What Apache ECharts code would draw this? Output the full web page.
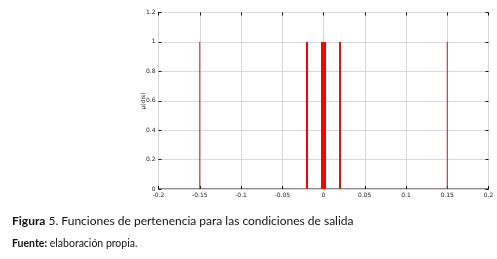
<!DOCTYPE html>
<html><head><meta charset="utf-8">
<script src="https://cdn.jsdelivr.net/npm/echarts@6/dist/echarts.min.js"></script>
<style>html,body{margin:0;padding:0;background:#fff}#c{width:497px;height:259px}</style>
</head><body><div id="c"></div>
<script>
// membership function peaks (output conditions)
const mfCenters = [-0.15, -0.02, 0, 0.02, 0.15];
const mfPeak = [1, 1, 1, 1, 1];
const mfColors = ['#c62828', '#ff0000', '#ff0000', '#c41e1e', '#b22222'];
const mfWidths = [1, 2, 5, 2, 1];
const xTicks = [-0.2, -0.15, -0.1, -0.05, 0, 0.05, 0.1, 0.15, 0.2];
const yTicks = [0, 0.2, 0.4, 0.6, 0.8, 1, 1.2];
const yName = 'μ(dis)';

const chart = echarts.init(document.getElementById('c'));
const lbl = {fontSize: 6, color: '#222', fontFamily: 'DejaVu Sans'};
const series = mfCenters.map((c, i) => ({
  type: 'line', xAxisIndex: 0, yAxisIndex: 0, symbol: 'none', animation: false, z: 5,
  data: [[c, 0], [c, mfPeak[i]]],
  lineStyle: {color: mfColors[i], width: mfWidths[i], cap: 'butt'}
}));
const tick = {inside: true, length: 3, lineStyle: {color: '#111'}};
const noLine = {show: false, onZero: false};
chart.setOption({
  animation: false,
  grid: {left: 158.5, right: 8.5, top: 12.5, bottom: 70, show: true, borderColor: '#111', borderWidth: 1},
  xAxis: [
    {type: 'value', min: -0.2, max: 0.2, interval: 0.05, position: 'bottom',
     axisLine: noLine, axisTick: tick,
     axisLabel: Object.assign({margin: 3, formatter: v => String(Math.round(v*100)/100)}, lbl),
     splitLine: {show: true, lineStyle: {color: '#d9d9d9', width: 1}}},
    {type: 'value', min: -0.2, max: 0.2, interval: 0.05, position: 'top',
     axisLine: noLine, axisTick: tick,
     axisLabel: {show: false}, splitLine: {show: false}}
  ],
  yAxis: [
    {type: 'value', min: 0, max: 1.2, interval: 0.2, position: 'left',
     axisLine: noLine, axisTick: tick,
     axisLabel: Object.assign({margin: 3, formatter: v => String(Math.round(v*10)/10)}, lbl),
     splitLine: {show: true, lineStyle: {color: '#d9d9d9', width: 1}}},
    {type: 'value', min: 0, max: 1.2, interval: 0.2, position: 'right',
     axisLine: noLine, axisTick: tick,
     axisLabel: {show: false}, splitLine: {show: false}}
  ],
  series: series,
  graphic: [
    {type: 'text', x: 143, y: 101, rotation: Math.PI / 2,
     style: {text: yName, font: '6px "DejaVu Sans"', fill: '#222', align: 'center', verticalAlign: 'middle'}},
    {type: 'text', left: 12, top: 215, style: {text: '{b|Figura} 5. Funciones de pertenencia para las condiciones de salida',
      font: '12px Lato', fill: '#111', rich: {b: {font: 'bold 12px Lato', fill: '#111'}}}},
    {type: 'text', left: 12, top: 238, style: {text: '{b|Fuente:} elaboración propia.',
      font: '10.5px Lato', fill: '#111', rich: {b: {font: 'bold 10.5px Lato', fill: '#111'}}}}
  ]
});
</script></body></html>
